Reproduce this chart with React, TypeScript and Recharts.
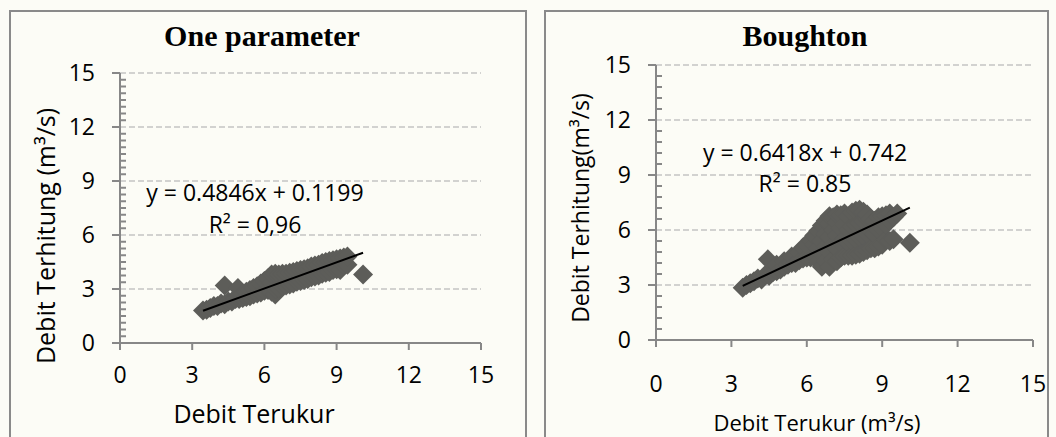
// @ts-nocheck
import React from 'react'
import { ScatterChart, Scatter, XAxis, YAxis, CartesianGrid } from 'recharts'

// Debit Terukur (measured) vs Debit Terhitung (computed), both in m³/s
const oneParamPoints = [
  [3.45, 1.8], [3.6, 1.85], [3.75, 1.95], [3.9, 2.05], [4.05, 2.05], [4.2, 2.2],
  [4.35, 2.15], [4.35, 3.2], [4.5, 2.3], [4.65, 2.3], [4.8, 2.45], [4.9, 3.05], [4.95, 2.45],
  [5.1, 2.5], [5.1, 2.75], [5.25, 2.55], [5.25, 2.85], [5.4, 2.6], [5.4, 2.95],
  [5.55, 2.7], [5.55, 3.05], [5.7, 2.75], [5.7, 3.15], [5.85, 2.8], [5.85, 3.3],
  [6.0, 2.9], [6.0, 3.45], [6.15, 2.95], [6.15, 3.6], [6.3, 2.85], [6.3, 3.35], [6.3, 3.8],
  [6.45, 2.7], [6.45, 3.0], [6.45, 3.85], [6.6, 3.05], [6.6, 3.8], [6.75, 3.15], [6.75, 3.85],
  [6.9, 3.2], [6.9, 3.85], [7.05, 3.25], [7.05, 3.9], [7.2, 3.3], [7.2, 3.95],
  [7.35, 3.4], [7.35, 4.0], [7.5, 3.45], [7.5, 4.05], [7.65, 3.5], [7.65, 4.1],
  [7.8, 3.55], [7.8, 4.15], [7.95, 3.65], [7.95, 4.25], [8.1, 3.7], [8.1, 4.3],
  [8.25, 3.75], [8.25, 4.35], [8.4, 3.85], [8.4, 4.45], [8.55, 3.9], [8.55, 4.5],
  [8.7, 3.95], [8.7, 4.55], [8.85, 4.05], [8.85, 4.6], [9.0, 4.1], [9.0, 4.65],
  [9.15, 4.05], [9.15, 4.7], [9.3, 4.3], [9.3, 4.75], [9.45, 4.35], [9.45, 4.8],
  [10.1, 3.8],
]
const oneParamSlope = 0.4846
const oneParamIntercept = 0.1199
const oneParamR2 = '0,96'

const boughtonPoints = [
  [3.45, 2.85], [3.6, 3.0], [3.75, 3.1], [3.9, 3.2], [4.05, 3.35], [4.2, 3.3], [4.35, 3.55],
  [4.45, 4.4], [4.5, 3.5], [4.65, 3.7], [4.8, 3.75], [4.8, 4.1], [4.95, 3.85],
  [5.1, 4.0], [5.1, 4.3], [5.25, 4.1], [5.4, 4.2], [5.4, 4.55], [5.55, 4.2],
  [5.7, 4.35], [5.7, 4.8], [5.85, 4.45], [5.85, 5.05], [6.0, 4.5], [6.0, 5.2],
  [6.15, 4.5], [6.15, 5.45], [6.3, 4.6], [6.3, 5.2], [6.3, 5.7],
  [6.45, 4.3], [6.45, 5.0], [6.45, 5.95], [6.6, 4.0], [6.6, 4.7], [6.6, 5.4], [6.6, 6.25],
  [6.75, 4.3], [6.75, 5.1], [6.75, 5.8], [6.75, 6.5],
  [6.9, 4.0], [6.9, 4.8], [6.9, 5.6], [6.9, 6.35], [6.9, 6.75],
  [7.05, 4.4], [7.05, 5.2], [7.05, 6.0], [7.05, 6.7],
  [7.2, 4.3], [7.2, 5.0], [7.2, 5.7], [7.2, 6.4], [7.2, 6.85],
  [7.35, 4.5], [7.35, 5.3], [7.35, 6.1], [7.35, 6.8],
  [7.5, 4.6], [7.5, 5.5], [7.5, 6.3], [7.5, 6.9],
  [7.65, 4.6], [7.65, 5.3], [7.65, 6.0], [7.65, 6.75],
  [7.8, 4.6], [7.8, 5.4], [7.8, 6.2], [7.8, 6.95],
  [7.95, 4.65], [7.95, 5.5], [7.95, 6.3], [7.95, 7.05],
  [8.1, 4.7], [8.1, 5.6], [8.1, 6.4], [8.1, 7.1],
  [8.25, 4.8], [8.25, 5.7], [8.25, 6.5], [8.25, 7.0],
  [8.4, 4.9], [8.4, 5.8], [8.4, 6.6], [8.4, 6.85],
  [8.55, 5.0], [8.55, 5.9], [8.55, 6.6], [8.7, 5.0], [8.7, 5.8], [8.7, 6.5],
  [8.85, 5.1], [8.85, 6.0], [8.85, 6.7], [9.0, 5.2], [9.0, 6.1], [9.0, 6.75],
  [9.15, 5.5], [9.15, 6.3], [9.15, 6.8], [9.3, 5.4], [9.3, 6.5], [9.3, 6.9],
  [9.45, 5.5], [9.45, 6.7], [9.6, 6.9], [10.1, 5.3],
]
const boughtonSlope = 0.6418
const boughtonIntercept = 0.742
const boughtonR2 = '0.85'

const axisTicks = [0, 3, 6, 9, 12, 15]
const oneParamMinorStep = 0.375
const boughtonMinorStep = 0.6

const BG = '#fcfcf6'
const AXIS = '#878787'
const GRID = '#c4c4c4'
const MARK = '#5d5d59'
const SANS = '"Open Sans", sans-serif'
const SERIF = '"Liberation Serif", serif'

const Y_AXIS_W = 40
const X_AXIS_H = 30

const isMajor = (v) => axisTicks.some((t) => Math.abs(t - v) < 1e-6)

function minorTicks(step) {
  const n = Math.round(15 / step)
  return Array.from({ length: n + 1 }, (_, i) => Math.round(i * step * 1000) / 1000)
}

function trend(points, slope, intercept) {
  const xs = points.map((p) => p[0])
  const lo = Math.min(...xs)
  const hi = Math.max(...xs)
  return [
    { x: lo, y: slope * lo + intercept },
    { x: hi, y: slope * hi + intercept },
  ]
}

// diamond marker, square turned 45 degrees
const Diamond = ({ cx, cy }) => {
  const r = 10
  return <path d={`M${cx},${cy - r}L${cx + r},${cy}L${cx},${cy + r}L${cx - r},${cy}Z`} fill={MARK} />
}

// major ticks point outward with a label, minor ticks point into the plot
const makeYTick = (fontSize) => ({ x, y, payload }) => {
  const v = payload.value
  if (!isMajor(v)) {
    return <line x1={x} x2={x + 6} y1={y} y2={y} stroke={AXIS} strokeWidth={2} />
  }
  return (
    <g>
      <line x1={x - 8} x2={x} y1={y} y2={y} stroke={AXIS} strokeWidth={2} />
      <text x={x - 25} y={y} dy="0.36em" textAnchor="end" fontSize={fontSize} fontFamily={SANS} fill="#000">{v}</text>
    </g>
  )
}

const makeXTick = (fontSize, gap) => ({ x, y, payload }) => (
  <g>
    <line x1={x} x2={x} y1={y} y2={y + 7} stroke={AXIS} strokeWidth={2} />
    <text x={x} y={y + gap} textAnchor="middle" fontSize={fontSize} fontFamily={SANS} fill="#000">{payload.value}</text>
  </g>
)

// plot: left/top/right/bottom edges of the plot area inside a 528x437 chart
function Panel({ points, slope, intercept, minorStep, plot, tickFont, xGap }) {
  const data = points.map(([x, y]) => ({ x, y }))
  const margin = {
    top: plot.top,
    right: 528 - plot.right,
    bottom: 437 - plot.bottom - X_AXIS_H,
    left: plot.left - Y_AXIS_W,
  }
  return (
    <ScatterChart width={528} height={437} margin={margin}>
      <CartesianGrid vertical={false} horizontalValues={axisTicks} stroke={GRID} strokeWidth={1.5} strokeDasharray="6 3" />
      <XAxis
        type="number" dataKey="x" domain={[0, 15]} ticks={axisTicks} interval={0}
        height={X_AXIS_H} tickSize={0} tickMargin={0} tickLine={false}
        axisLine={{ stroke: AXIS, strokeWidth: 2 }} tick={makeXTick(tickFont, xGap)}
      />
      <YAxis
        type="number" dataKey="y" domain={[0, 15]} ticks={minorTicks(minorStep)} interval={0}
        width={Y_AXIS_W} tickSize={0} tickMargin={0} tickLine={false}
        axisLine={{ stroke: AXIS, strokeWidth: 2 }} tick={makeYTick(tickFont)}
      />
      <Scatter data={data} shape={Diamond} isAnimationActive={false} />
      <Scatter
        data={trend(points, slope, intercept)}
        line={{ stroke: '#000', strokeWidth: 2 }}
        shape={() => <g />}
        isAnimationActive={false}
      />
    </ScatterChart>
  )
}

export default function App() {
  return (
    <div style={{ position: 'fixed', left: 0, top: 0, width: 1056, height: 437, background: BG, overflow: 'hidden' }}>
      <div style={{ position: 'absolute', left: 9, top: 10, width: 518, height: 480, border: '2px solid #8a8a8a', boxSizing: 'border-box' }} />
      <div style={{ position: 'absolute', left: 544, top: 10, width: 505, height: 480, border: '2px solid #8a8a8a', boxSizing: 'border-box' }} />

      <div style={{ position: 'absolute', left: 0, top: 0 }}>
        <Panel
          points={oneParamPoints} slope={oneParamSlope} intercept={oneParamIntercept}
          minorStep={oneParamMinorStep} plot={{ left: 120, top: 73, right: 481, bottom: 343 }}
          tickFont={23} xGap={40}
        />
      </div>
      <div style={{ position: 'absolute', left: 528, top: 0 }}>
        <Panel
          points={boughtonPoints} slope={boughtonSlope} intercept={boughtonIntercept}
          minorStep={boughtonMinorStep} plot={{ left: 128, top: 65, right: 505, bottom: 340 }}
          tickFont={23} xGap={52}
        />
      </div>

      <svg width={1056} height={437} style={{ position: 'absolute', left: 0, top: 0, pointerEvents: 'none' }}>
        <text x={262} y={46} textAnchor="middle" fontFamily={SERIF} fontWeight="bold" fontSize={30}>One parameter</text>
        <text x={255} y={201} textAnchor="middle" fontFamily={SANS} fontSize={23}>{`y = ${oneParamSlope}x + ${oneParamIntercept}`}</text>
        <text x={255} y={233} textAnchor="middle" fontFamily={SANS} fontSize={23}>{`R² = ${oneParamR2}`}</text>
        <text x={254} y={423} textAnchor="middle" fontFamily={SANS} fontSize={25}>Debit Terukur</text>
        <text transform="translate(55,236) rotate(-90)" textAnchor="middle" fontFamily={SANS} fontSize={25}>Debit Terhitung (m³/s)</text>

        <text x={805} y={46} textAnchor="middle" fontFamily={SERIF} fontWeight="bold" fontSize={30}>Boughton</text>
        <text x={805} y={161} textAnchor="middle" fontFamily={SANS} fontSize={23}>{`y = ${boughtonSlope}x + ${boughtonIntercept}`}</text>
        <text x={805} y={192} textAnchor="middle" fontFamily={SANS} fontSize={23}>{`R² = ${boughtonR2}`}</text>
        <text x={817} y={431} textAnchor="middle" fontFamily={SANS} fontSize={22}>Debit Terukur (m³/s)</text>
        <text transform="translate(589,208) rotate(-90)" textAnchor="middle" fontFamily={SANS} fontSize={23}>Debit Terhitung(m³/s)</text>
      </svg>
    </div>
  )
}
